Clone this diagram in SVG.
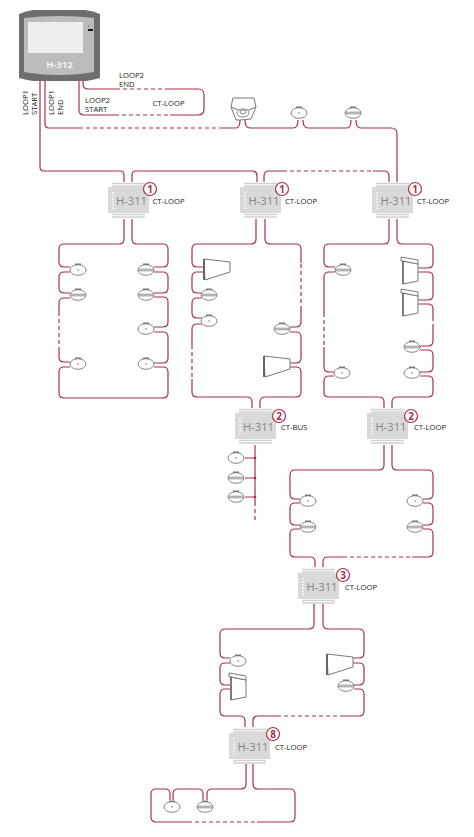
<svg xmlns="http://www.w3.org/2000/svg" xmlns:xlink="http://www.w3.org/1999/xlink" width="474" height="837" viewBox="0 0 474 837">
<style>
text{font-family:"Open Sans","Liberation Sans",sans-serif;opacity:.999}
.c path,.c line{fill:none;stroke:#a8304a;stroke-width:1.2}
.c .d{stroke-dasharray:4 3}
.l{font-size:7.7px;fill:#222}
.m{font-size:11.200px;fill:#858585;text-anchor:middle}
.r{fill:#fff;stroke:#a8304a;stroke-width:1.2}
.t{font-size:10px;font-weight:700;fill:#a8304a;text-anchor:middle}
.s{fill:#fff;stroke:#777;stroke-width:.9}
.g{fill:#777;stroke:none}
.p{fill:#fff;stroke:#777;stroke-width:1}
</style>
<defs>
<g id="mod"><path d="M4 -3.500H37M4 -1H37M4 27.500H37M4 30H37" stroke="#d2d2d2" stroke-width="1.300" fill="none"/><rect width="41" height="26" fill="#d9d9d9"/><path d="M5 5V22" stroke="#fff" stroke-width="1.500" stroke-dasharray="1.500 1.600"/></g>
<g id="sen"><rect x="-3" y="-6.500" width="6" height="2" class="g"/><ellipse rx="8" ry="5.300" class="s"/><circle r=".8" class="g"/></g>
<g id="str"><rect x="-3" y="-6.500" width="6" height="2" class="g"/><ellipse rx="8" ry="5.300" class="s"/><path d="M-7.500 -.8H7.500M-7.500 .8H7.500" stroke="#777" stroke-width=".8"/></g>
<g id="spk"><path d="M0 0L26 3V13L1 21Z" class="p"/><path d="M0 0V21" stroke="#666" stroke-width="2"/></g>
<g id="pan"><path d="M2 4L17 7V24L2 27Z" class="p"/><path d="M0 0L17 3V7L2 4H0Z" class="p"/><path d="M2 4V27" stroke="#666" stroke-width="1.500"/></g>
</defs>
<g id="connectors" class="c">
<path d="M40 81V167Q40 171 44 171H120Q124 171 124 175V182"/>
<path d="M45 81V124Q45 128 49 128H79"/><path class="d" d="M79 128H220"/><path d="M220 128H236Q240 128 240 120"/>
<path d="M245 120Q245 128 250 128H293Q298 128 298 120"/><path d="M303 120Q303 128 308 128H347Q351 128 351 120"/><path d="M356 120Q356 128 361 128H391Q397 128 397 134V182"/>
<path d="M79 81V110Q79 115 84 115H115"/><path class="d" d="M115 115H170"/><path d="M170 115H198Q204 115 204 109V95Q204 89 198 89H169"/><path class="d" d="M169 89H119"/><path d="M119 89H88Q83 89 83 84V81"/>
<path d="M132 182V175Q132 171 136 171H252Q257 171 257 176V182"/><path d="M264 182V176Q264 171 269 171H283"/><path class="d" d="M283 171H373"/><path d="M373 171H384Q389 171 389 176V182"/>
<path d="M124 219V239Q124 244 119 244H64Q59 244 59 249V262Q59 267 64 267H70"/>
<path d="M70 272H64Q59 272 59 277V288Q59 293 64 293H70"/>
<path d="M70 298H64Q59 298 59 303V312"/><path class="d" d="M59 312V347"/><path d="M59 347V357Q59 362 64 362H70"/>
<path d="M70 367H64Q59 367 59 372V393Q59 398 64 398H163Q168 398 168 393V372Q168 367 163 367H154"/>
<path d="M154 363H163Q168 363 168 358V337Q168 332 163 332H154"/>
<path d="M154 327H163Q168 327 168 322V302Q168 297 163 297H154"/>
<path d="M154 293H163Q168 293 168 288V277Q168 272 163 272H154"/>
<path d="M154 267H163Q168 267 168 262V249Q168 244 163 244H137Q132 244 132 239V219"/>
<path d="M256 219V239Q256 244 251 244H197Q192 244 192 249V262Q192 267 197 267H204"/>
<path d="M204 272H197Q192 272 192 277V288Q192 293 197 293H202"/>
<path d="M202 298H197Q192 298 192 303V313Q192 318 197 318H202"/>
<path d="M202 324H197Q192 324 192 329V345"/><path class="d" d="M192 345V379"/><path d="M192 379V392Q192 397 197 397H247Q252 397 252 402V408"/>
<path d="M260 408V402Q260 397 265 397H296Q301 397 301 392V372Q301 367 296 367H290"/>
<path d="M290 363H296Q301 363 301 358V337Q301 332 296 332H290"/>
<path d="M290 327H296Q301 327 301 322V310"/><path class="d" d="M301 310V263"/><path d="M301 263V249Q301 244 296 244H270Q265 244 265 239V219"/>
<path d="M389 219V239Q389 244 384 244H329Q324 244 324 249V262Q324 267 329 267H335"/>
<path d="M335 272H329Q324 272 324 277V313"/><path class="d" d="M324 313V347"/><path d="M324 347V367Q324 372 329 372H334"/>
<path d="M334 376H329Q324 376 324 381V393Q324 397 329 397H379Q384 397 384 402V408"/>
<path d="M392 408V402Q392 397 397 397H428Q433 397 433 392V381Q433 376 428 376H420"/>
<path d="M420 372H428Q433 372 433 367V355Q433 350 428 350H420"/>
<path d="M420 346H428Q433 346 433 341V328"/><path class="d" d="M433 328V318"/><path d="M433 318V309Q433 304 428 304H418"/>
<path d="M418 300H428Q433 300 433 295V277Q433 272 428 272H418"/>
<path d="M418 268H428Q433 268 433 263V249Q433 244 428 244H402Q397 244 397 239V219"/>
<path d="M255 445V502"/><path class="d" d="M255 502V523"/><path d="M245 458H255M245 478H255M245 497H255"/>
<path d="M384 445V465Q384 470 379 470H295Q290 470 290 475V494Q290 499 295 499H300"/>
<path d="M300 503H295Q290 503 290 508V520Q290 525 295 525H300"/>
<path d="M300 529H295Q290 529 290 534V552Q290 557 295 557H310Q315 557 315 562V567"/>
<path d="M323 567V562Q323 557 328 557H343"/><path class="d" d="M343 557H412"/><path d="M412 557H428Q433 557 433 552V534Q433 529 428 529H423"/>
<path d="M423 525H428Q433 525 433 520V508Q433 503 428 503H423"/>
<path d="M423 499H428Q433 499 433 494V475Q433 470 428 470H397Q392 470 392 465V445"/>
<path d="M314 604V624Q314 629 309 629H225Q220 629 220 634V653Q220 658 225 658H230"/>
<path d="M230 663H225Q220 663 220 668V680Q220 685 225 685H230"/>
<path d="M230 689H225Q220 689 220 694V711Q220 716 225 716H240Q245 716 245 721V727"/>
<path d="M253 727V721Q253 716 258 716H277"/><path class="d" d="M277 716H343"/><path d="M343 716H359Q364 716 364 711V694Q364 689 359 689H354"/>
<path d="M354 685H359Q364 685 364 680V668Q364 663 359 663H353"/>
<path d="M353 658H359Q364 658 364 653V634Q364 629 359 629H328Q323 629 323 624V604"/>
<path d="M246 764V784Q246 789 241 789H212Q207 789 207 794V800"/>
<path d="M203 800V794Q203 789 198 789H178Q173 789 173 794V800"/>
<path d="M170 800V794Q170 789 165 789H156Q151 789 151 794V817Q151 822 156 822H188"/><path class="d" d="M188 822H257"/><path d="M257 822H290Q295 822 295 817V794Q295 789 290 789H258Q253 789 253 784V764"/>
<circle cx="255" cy="458" r="1.300" fill="#a8304a"/><circle cx="255" cy="478" r="1.300" fill="#a8304a"/><circle cx="255" cy="497" r="1.300" fill="#a8304a"/>
</g>
<g id="h312"><path d="M19 14Q26 11 33 10H86Q93 11 100 14V78Q93 80 86 81H33Q26 80 19 78Z" fill="#6e6e6e"/><path d="M24 18Q40 16 59 16Q78 16 94 18V72Q78 75 59 75Q40 75 24 72Z" fill="#bcbcbc"/><rect x="28" y="22" width="55" height="31" fill="#eee"/><rect x="88" y="29" width="5" height="2" fill="#111"/><rect x="88" y="25" width="1" height="2" fill="#888"/><text x="59.500" y="67.500" text-anchor="middle" font-size="9.500" font-weight="700" fill="#f2f2f2">H-312</text></g>
<g id="labels">
<text class="l" x="119" y="77.500">LOOP2</text><text class="l" x="119" y="86.500">END</text><text class="l" x="85" y="103">LOOP2</text><text class="l" x="85" y="112">START</text><text class="l" x="152.500" y="105.500">CT-LOOP</text>
<text class="l" transform="translate(28 115) rotate(-90)">LOOP1</text><text class="l" transform="translate(37 115) rotate(-90)">START</text><text class="l" transform="translate(54 115) rotate(-90)">LOOP1</text><text class="l" transform="translate(63 115) rotate(-90)">END</text>
</g>
<g id="camera"><path d="M233 98H254L256 107L251 119L240 120H236L231 107Z" class="p"/><path d="M231 107L238 110H249L256 107" class="p" fill="none"/><ellipse cx="243" cy="113" rx="6" ry="4" class="s"/><ellipse cx="243" cy="112" rx="3" ry="2" class="s"/></g>
<g id="n1"><use xlink:href="#mod" href="#mod" x="108" y="187"/><text class="m" x="131.500" y="205">H-311</text><circle class="r" cx="150" cy="189" r="6.500"/><text class="t" x="150" y="192.500">1</text><text class="l" x="152.500" y="204">CT-LOOP</text></g>
<g id="n2"><use xlink:href="#mod" href="#mod" x="240" y="187"/><text class="m" x="264" y="205">H-311</text><circle class="r" cx="282" cy="189" r="6.500"/><text class="t" x="282" y="192.500">1</text><text class="l" x="285" y="204">CT-LOOP</text></g>
<g id="n3"><use xlink:href="#mod" href="#mod" x="372" y="187"/><text class="m" x="396" y="205">H-311</text><circle class="r" cx="415" cy="189" r="6.500"/><text class="t" x="415" y="192.500">1</text><text class="l" x="417" y="204">CT-LOOP</text></g>
<g id="n4"><use xlink:href="#mod" href="#mod" x="235" y="413"/><text class="m" x="258.500" y="431">H-311</text><circle class="r" cx="279" cy="416" r="6.500"/><text class="t" x="279" y="419.500">2</text><text class="l" x="281" y="430">CT-BUS</text></g>
<g id="n5"><use xlink:href="#mod" href="#mod" x="367" y="413"/><text class="m" x="391" y="431">H-311</text><circle class="r" cx="411" cy="416" r="6.500"/><text class="t" x="411" y="419.500">2</text><text class="l" x="414" y="430">CT-LOOP</text></g>
<g id="n6"><use xlink:href="#mod" href="#mod" x="298" y="573"/><text class="m" x="322" y="591">H-311</text><circle class="r" cx="343" cy="575" r="6.500"/><text class="t" x="343" y="578.500">3</text><text class="l" x="345" y="589.500">CT-LOOP</text></g>
<g id="n7"><use xlink:href="#mod" href="#mod" x="229" y="733"/><text class="m" x="253" y="751">H-311</text><circle class="r" cx="273" cy="734" r="6.500"/><text class="t" x="273" y="737.500">8</text><text class="l" x="275" y="749.500">CT-LOOP</text></g>
<g id="devices">
<use xlink:href="#sen" href="#sen" x="299" y="113"/><use xlink:href="#str" href="#str" x="353" y="113"/>
<use xlink:href="#sen" href="#sen" x="78" y="270"/><use xlink:href="#str" href="#str" x="78" y="295"/><use xlink:href="#sen" href="#sen" x="78" y="364"/>
<use xlink:href="#str" href="#str" x="146" y="270"/><use xlink:href="#str" href="#str" x="146" y="295"/><use xlink:href="#sen" href="#sen" x="146" y="329"/><use xlink:href="#sen" href="#sen" x="146" y="364"/>
<use xlink:href="#spk" href="#spk" x="204" y="259"/><use xlink:href="#str" href="#str" x="209" y="295"/><use xlink:href="#sen" href="#sen" x="209" y="321"/><use xlink:href="#str" href="#str" x="282" y="329"/><use xlink:href="#spk" href="#spk" x="264" y="356"/>
<use xlink:href="#str" href="#str" x="343" y="270"/><use xlink:href="#sen" href="#sen" x="342" y="373"/><use xlink:href="#pan" href="#pan" x="401" y="257"/><use xlink:href="#pan" href="#pan" x="401" y="289"/><use xlink:href="#str" href="#str" x="412" y="347"/><use xlink:href="#sen" href="#sen" x="412" y="373"/>
<use xlink:href="#sen" href="#sen" x="236" y="458"/><use xlink:href="#str" href="#str" x="236" y="478"/><use xlink:href="#str" href="#str" x="236" y="497"/>
<use xlink:href="#sen" href="#sen" x="308" y="501"/><use xlink:href="#str" href="#str" x="308" y="527"/><use xlink:href="#sen" href="#sen" x="415" y="501"/><use xlink:href="#str" href="#str" x="415" y="527"/>
<use xlink:href="#sen" href="#sen" x="238" y="661"/><use xlink:href="#pan" href="#pan" x="229" y="673"/><use xlink:href="#spk" href="#spk" x="327" y="654"/><use xlink:href="#str" href="#str" x="346" y="686"/>
<use xlink:href="#sen" href="#sen" x="172" y="807"/><use xlink:href="#str" href="#str" x="205" y="807"/>
</g>
</svg>
